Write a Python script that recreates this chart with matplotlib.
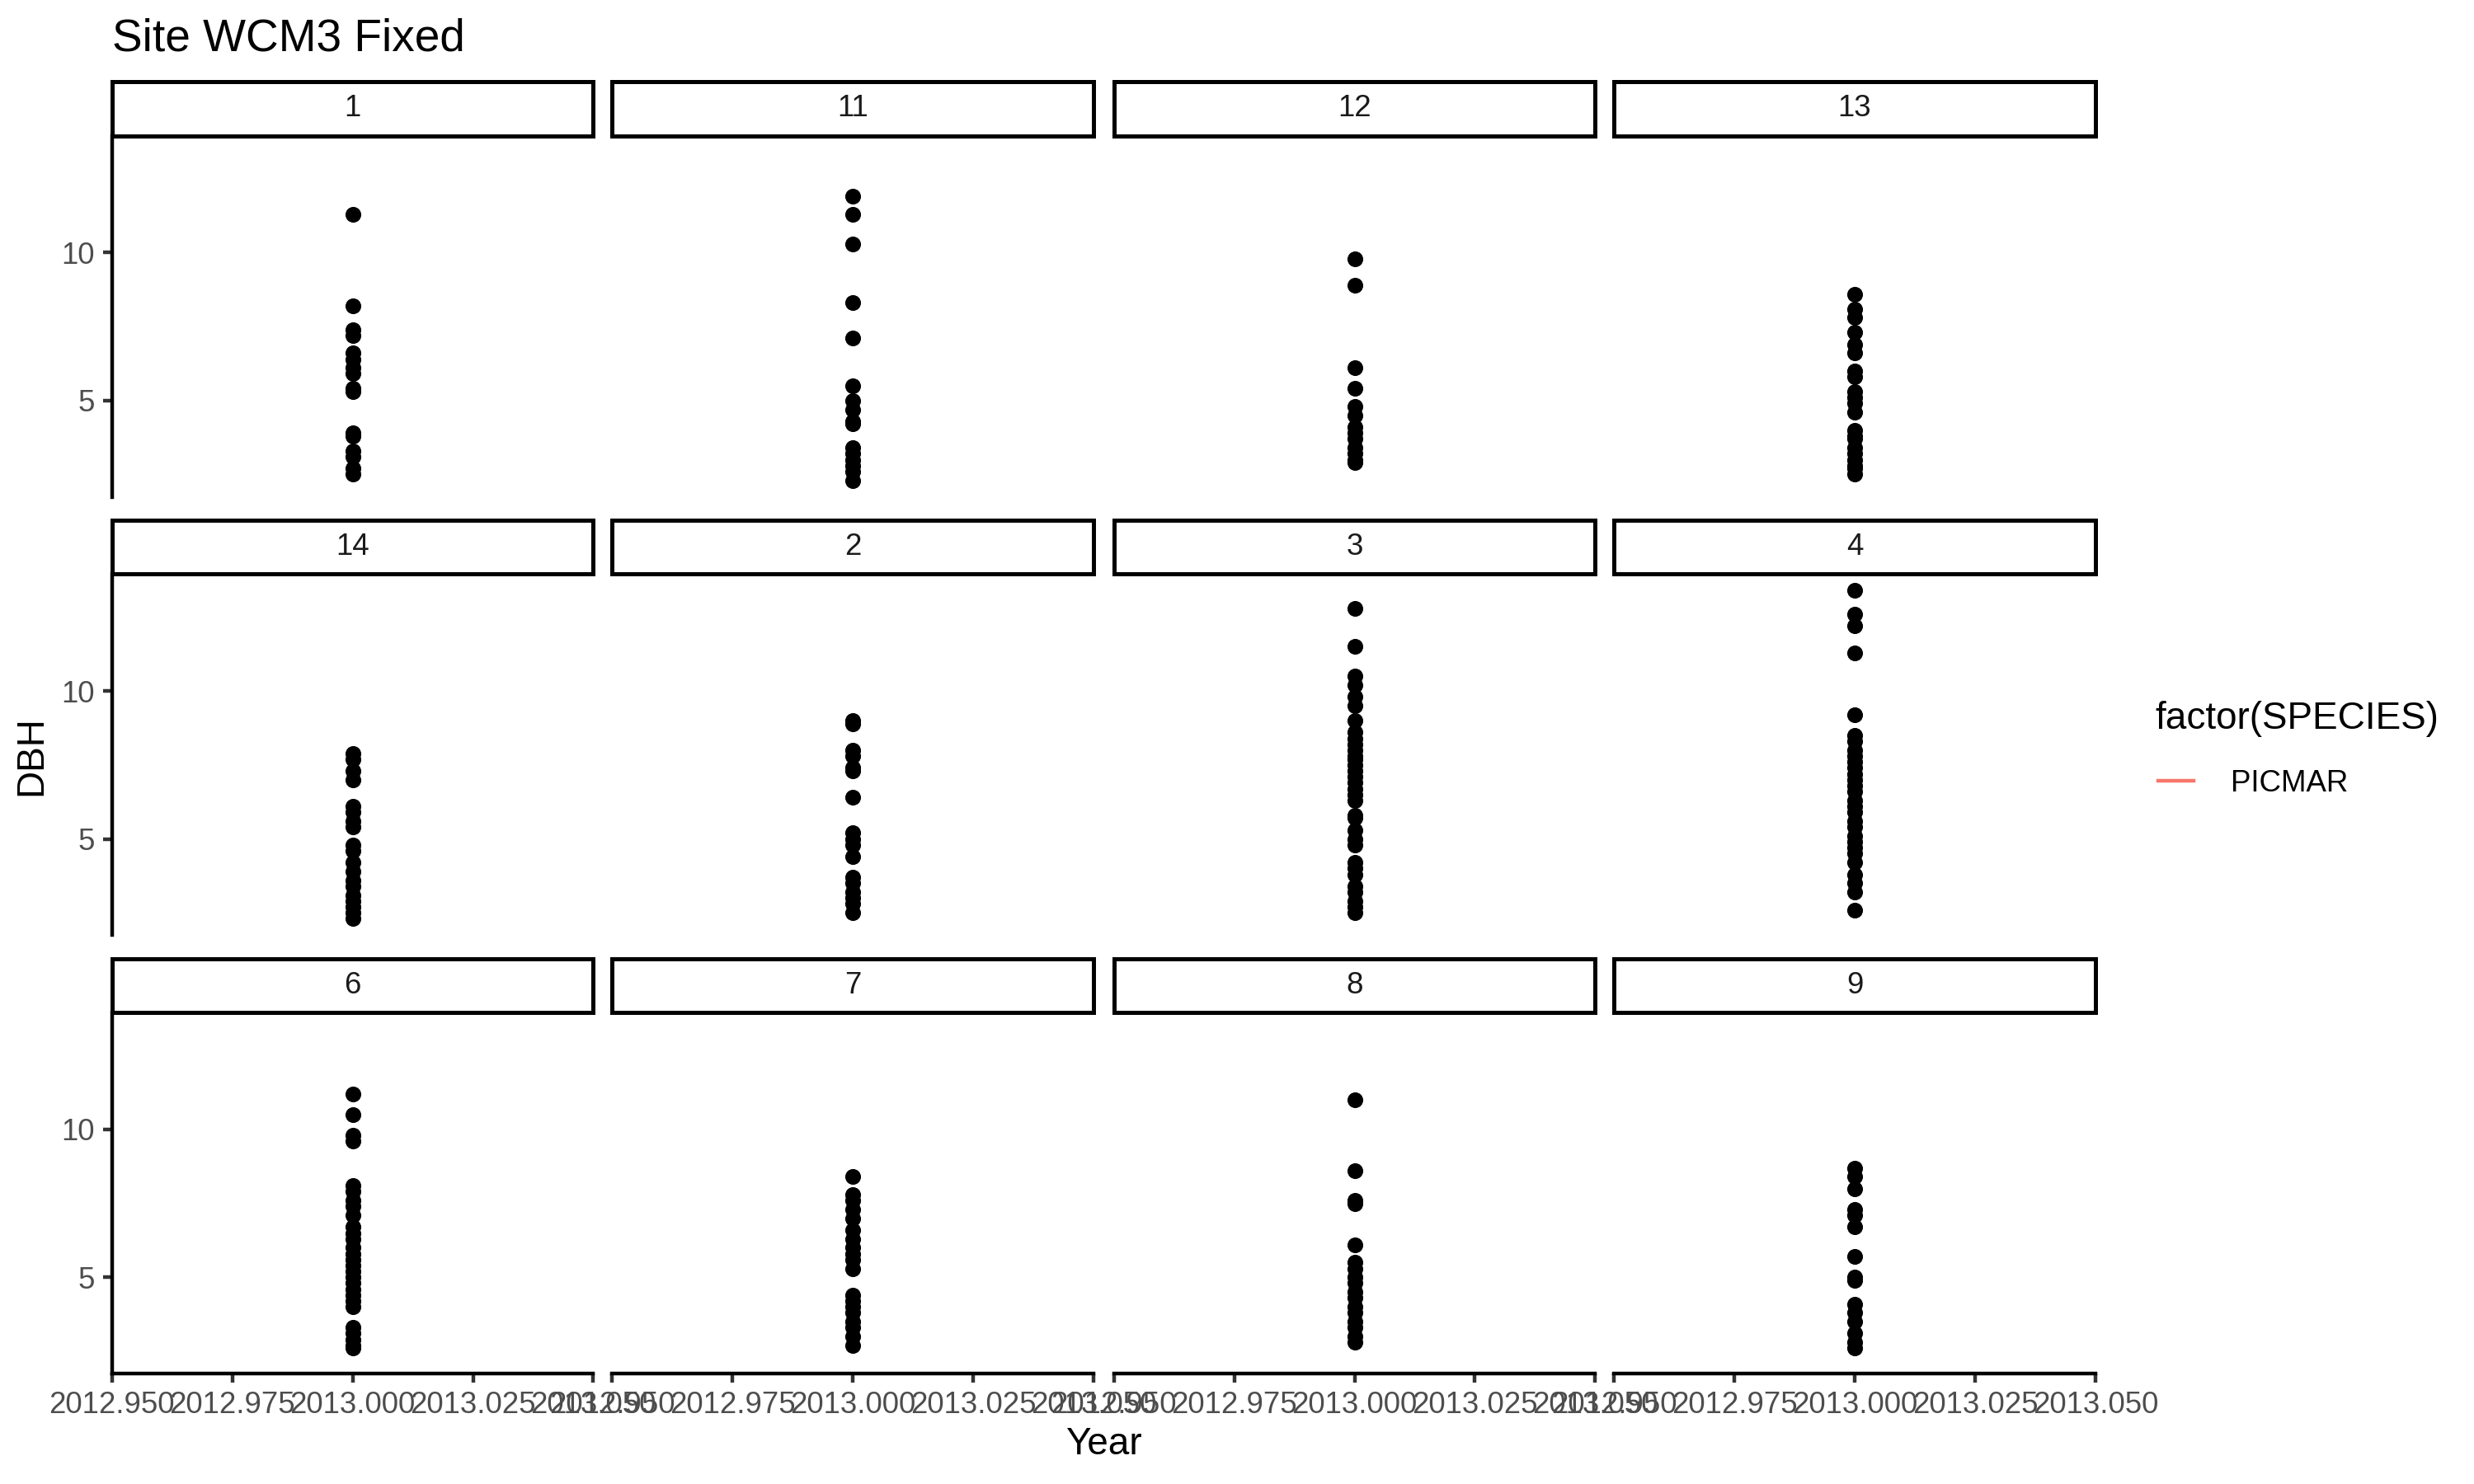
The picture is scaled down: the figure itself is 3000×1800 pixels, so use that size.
import matplotlib.pyplot as plt
from matplotlib.lines import Line2D
import numpy as np

plt.rcParams['font.family'] = ['Liberation Sans', 'DejaVu Sans']

# facet labels (PLOT), one panel each, sorted as text
plots = ["1", "11", "12", "13", "14", "2", "3", "4", "6", "7", "8", "9"]
year = 2013.0

dbh_1 = [11.3, 8.2, 7.4, 7.2, 6.6, 6.4, 6.1, 5.9, 5.4, 5.3, 3.9, 3.8, 3.3, 3.1, 2.7, 2.5]
dbh_11 = [11.9, 11.3, 10.3, 8.3, 7.1, 5.5, 5.0, 4.7, 4.3, 4.2, 3.4, 3.2, 3.0, 2.8, 2.6, 2.3]
dbh_12 = [9.8, 8.9, 6.1, 5.4, 4.8, 4.5, 4.1, 3.9, 3.7, 3.4, 3.2, 3.0, 2.9]
dbh_13 = [8.6, 8.1, 7.8, 7.3, 6.9, 6.6, 6.0, 5.8, 5.3, 5.1, 4.9, 4.6, 4.0, 3.8, 3.7, 3.4,
          3.2, 3.0, 2.8, 2.7, 2.5]
dbh_14 = [7.9, 7.7, 7.3, 7.0, 6.1, 5.9, 5.6, 5.4, 4.8, 4.6, 4.2, 3.9, 3.6, 3.4, 3.1, 2.9,
          2.7, 2.5, 2.3]
dbh_2 = [9.0, 8.9, 8.0, 7.8, 7.4, 7.3, 6.4, 5.2, 5.0, 4.8, 4.4, 3.7, 3.5, 3.2, 3.0, 2.8, 2.5]
dbh_3 = [12.8, 11.5, 10.5, 10.2, 9.8, 9.5, 9.0, 8.6, 8.4, 8.2, 8.0, 7.8, 7.7, 7.5, 7.3, 7.1,
         6.9, 6.7, 6.5, 6.3, 5.8, 5.7, 5.3, 5.0, 4.8, 4.2, 4.0, 3.8, 3.4, 3.2, 2.9, 2.7, 2.5]
dbh_4 = [13.4, 12.6, 12.2, 11.3, 9.2, 8.5, 8.3, 8.0, 7.8, 7.6, 7.4, 7.2, 7.0, 6.8, 6.6, 6.3,
         6.1, 5.9, 5.6, 5.4, 5.1, 4.9, 4.7, 4.5, 4.2, 3.8, 3.5, 3.2, 2.6]
dbh_6 = [11.2, 10.5, 9.8, 9.6, 8.1, 7.9, 7.6, 7.4, 7.1, 6.7, 6.5, 6.3, 6.0, 5.8, 5.6, 5.4,
         5.2, 5.0, 4.8, 4.6, 4.4, 4.2, 4.0, 3.3, 3.1, 2.9, 2.7, 2.6]
dbh_7 = [8.4, 7.8, 7.6, 7.3, 7.0, 6.6, 6.3, 6.0, 5.8, 5.6, 5.3, 4.4, 4.2, 4.0, 3.8, 3.5,
         3.3, 3.0, 2.7]
dbh_8 = [11.0, 8.6, 7.6, 7.5, 6.1, 5.5, 5.3, 5.0, 4.8, 4.5, 4.3, 4.0, 3.8, 3.5, 3.3, 3.0, 2.8]
dbh_9 = [8.7, 8.4, 8.0, 7.3, 7.1, 6.7, 5.7, 5.0, 4.9, 4.1, 3.8, 3.5, 3.1, 2.8, 2.6]

data = [dbh_1, dbh_11, dbh_12, dbh_13, dbh_14, dbh_2, dbh_3, dbh_4,
        dbh_6, dbh_7, dbh_8, dbh_9]

x_ticks = [2012.950, 2012.975, 2013.000, 2013.025, 2013.050]
y_ticks = [5, 10]
species = ["PICMAR"]

fig = plt.figure(figsize=(10, 6), dpi=300)
W, H = 1568, 941
lefts = [71, 388, 706, 1023]
tops = [86, 364, 642]
pw, ph, sh = 305, 229, 34

allv = np.concatenate([np.array(v) for v in data])
pad = 0.05 * (allv.max() - allv.min())
ylo, yhi = allv.min() - pad, allv.max() + pad

lw = 1.07
for i, (name, vals) in enumerate(zip(plots, data)):
    r, c = divmod(i, 4)
    ax = fig.add_axes([lefts[c] / W, 1 - (tops[r] + ph) / H, pw / W, ph / H])
    ax.scatter(np.full(len(vals), year), vals, s=21, color='black', linewidths=0, zorder=3)
    ax.set_xlim(2012.95, 2013.05)
    ax.set_ylim(ylo, yhi)
    ax.set_xticks(x_ticks)
    ax.set_xticklabels(["%.3f" % t for t in x_ticks])
    ax.set_yticks(y_ticks)
    ax.spines['top'].set_visible(False)
    ax.spines['right'].set_visible(False)
    ax.spines['left'].set_linewidth(lw)
    ax.spines['bottom'].set_linewidth(lw)
    ax.tick_params(length=2.75, width=lw, color='#333333', labelcolor='#4D4D4D',
                   labelsize=8.8, pad=2.2)
    if c != 0:
        ax.spines['left'].set_visible(False)
        ax.tick_params(left=False, labelleft=False)
    if r != 2:
        ax.spines['bottom'].set_visible(False)
        ax.tick_params(bottom=False, labelbottom=False)
    ax.patch.set_alpha(0)

    # facet strip above each panel
    sax = fig.add_axes([lefts[c] / W, 1 - tops[r] / H, pw / W, sh / H])
    sax.set_xticks([])
    sax.set_yticks([])
    for s in sax.spines.values():
        s.set_linewidth(1.2)
    sax.text(0.5, 0.5, name, ha='center', va='center', fontsize=8.8,
             color='#1A1A1A', transform=sax.transAxes)

fig.text(71 / W, 1 - 25 / H, "Site WCM3 Fixed", fontsize=13.2, va='center', ha='left')
fig.text(699.5 / W, 1 - 916 / H, "Year", fontsize=11, ha='center', va='center')
fig.text(20 / W, 1 - 479 / H, "DBH", fontsize=11, ha='center', va='center', rotation=90)

fig.text(1366 / W, 1 - 456 / H, "factor(SPECIES)", fontsize=11, ha='left', va='center')
handles = [Line2D([], [], color='#F8766D', lw=1.07)]
fig.legend(handles, species, loc='center left',
           bbox_to_anchor=(1368 / W, 1 - 497 / H), frameon=False,
           fontsize=8.8, handlelength=1.15, handletextpad=1.25,
           borderaxespad=0, borderpad=0)

fig.savefig("out.png", dpi=300)
